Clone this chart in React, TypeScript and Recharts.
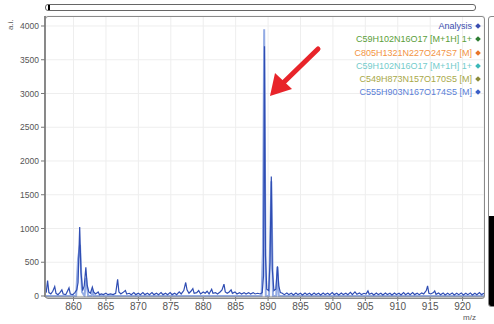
import { LineChart, Line, XAxis, YAxis, CartesianGrid } from 'recharts'

// m/z, intensity (a.i.)
const analysisTrace: [number, number][] = [
  [855.6, 40], [855.8, 60], [856.0, 230], [856.2, 50], [856.5, 30], [856.8, 70], [857.1, 140], [857.3, 40],
  [857.6, 20], [857.9, 50], [858.2, 90], [858.4, 30], [858.8, 20], [859.0, 60], [859.3, 120], [859.5, 30],
  [859.9, 20], [860.2, 50], [860.5, 90], [860.7, 200], [860.95, 1020], [861.15, 350], [861.4, 80], [861.65, 150],
  [861.9, 425], [862.1, 160], [862.35, 60], [862.6, 40], [862.9, 130], [863.1, 60], [863.4, 30], [863.8, 60],
  [864.0, 20], [864.3, 30], [864.6, 20], [865.0, 40], [865.3, 20], [865.7, 30], [866.1, 20], [866.5, 40],
  [866.8, 247], [867.0, 60], [867.3, 30], [867.6, 50], [868.0, 80], [868.2, 30], [868.6, 40], [868.9, 20],
  [869.3, 50], [869.6, 20], [870.0, 40], [870.3, 20], [870.7, 50], [871.0, 20], [871.4, 40], [871.7, 20],
  [872.1, 50], [872.4, 20], [872.8, 40], [873.1, 20], [873.5, 50], [873.8, 20], [874.2, 40], [874.5, 20],
  [874.9, 50], [875.2, 20], [875.6, 40], [875.9, 20], [876.3, 60], [876.6, 30], [877.0, 80], [877.3, 200],
  [877.5, 90], [877.8, 40], [878.1, 70], [878.4, 110], [878.6, 40], [879.0, 50], [879.3, 80], [879.6, 30],
  [880.0, 60], [880.3, 40], [880.6, 70], [880.9, 30], [881.3, 100], [881.5, 40], [881.9, 50], [882.2, 30],
  [882.6, 60], [882.9, 90], [883.2, 175], [883.4, 60], [883.7, 40], [884.0, 60], [884.3, 90], [884.5, 40],
  [884.9, 60], [885.2, 30], [885.6, 50], [885.9, 30], [886.3, 50], [886.6, 30], [887.0, 50], [887.3, 30],
  [887.7, 50], [888.0, 30], [888.4, 40], [888.8, 30], [889.1, 50], [889.3, 300], [889.45, 3700], [889.6, 600],
  [889.8, 100], [890.1, 80], [890.3, 500], [890.5, 1770], [890.65, 400], [890.9, 80], [891.2, 100], [891.45, 440],
  [891.65, 150], [891.9, 50], [892.2, 40], [892.5, 20], [892.9, 45], [893.2, 20], [893.6, 40], [893.9, 15],
  [894.3, 45], [894.6, 20], [895.0, 40], [895.3, 15], [895.7, 45], [896.0, 20], [896.4, 40], [896.7, 15],
  [897.1, 45], [897.4, 20], [897.8, 40], [898.1, 15], [898.5, 45], [898.8, 20], [899.2, 40], [899.5, 20],
  [899.9, 50], [900.2, 20], [900.6, 40], [900.9, 15], [901.3, 45], [901.6, 20], [902.0, 40], [902.3, 20],
  [902.7, 55], [903.0, 20], [903.4, 60], [903.7, 25], [904.1, 45], [904.4, 20], [904.8, 40], [905.1, 30],
  [905.4, 75], [905.6, 25], [906.0, 40], [906.3, 15], [906.7, 45], [907.0, 20], [907.4, 40], [907.7, 15],
  [908.1, 45], [908.4, 20], [908.8, 40], [909.1, 15], [909.5, 45], [909.8, 20], [910.2, 40], [910.5, 15],
  [910.9, 50], [911.2, 20], [911.6, 45], [911.9, 20], [912.3, 50], [912.6, 20], [913.0, 40], [913.3, 20],
  [913.7, 45], [914.0, 30], [914.4, 80], [914.6, 150], [914.8, 40], [915.1, 30], [915.5, 50], [915.7, 75],
  [915.9, 25], [916.3, 45], [916.6, 20], [917.0, 45], [917.3, 15], [917.7, 40], [918.0, 20], [918.4, 45],
  [918.7, 15], [919.1, 40], [919.4, 20], [919.8, 45], [920.1, 15], [920.5, 40], [920.8, 20], [921.2, 45],
  [921.5, 15], [921.9, 40], [922.2, 20], [922.6, 50], [922.9, 20], [923.3, 40],
]

// simulated isotope pattern (light blue)
const simulatedTrace: [number, number][] = [
  [855.6, 0], [860.4, 0], [860.7, 550], [861.0, 760], [861.3, 60], [861.7, 0], [861.95, 270], [862.25, 0],
  [862.8, 0], [862.95, 90], [863.15, 0], [889.0, 0], [889.2, 650], [889.4, 3950], [889.65, 0], [890.15, 0],
  [890.3, 710], [890.5, 1700], [890.75, 0], [891.25, 0], [891.45, 430], [891.65, 0], [923.3, 0],
]

const xTicks = [860, 865, 870, 875, 880, 885, 890, 895, 900, 905, 910, 915, 920]
const yTicks = [0, 500, 1000, 1500, 2000, 2500, 3000, 3500, 4000]

const legendItems = [
  { label: 'Analysis', text: '#3a4db0', mark: '#3a4db0' },
  { label: 'C59H102N16O17 [M+1H] 1+', text: '#5a9e3a', mark: '#2e7d32' },
  { label: 'C805H1321N227O247S7 [M]', text: '#f39443', mark: '#e8742a' },
  { label: 'C59H102N16O17 [M+1H] 1+', text: '#74cccc', mark: '#3bb8b8' },
  { label: 'C549H873N157O170S5 [M]', text: '#a8a848', mark: '#8a8a3a' },
  { label: 'C555H903N167O174S5 [M]', text: '#5b7fd8', mark: '#3a5ec8' },
]

const analysisData = analysisTrace.map(([mz, v]) => ({ mz, v }))
const simulatedData = simulatedTrace.map(([mz, v]) => ({ mz, v }))

const font = '"Liberation Sans", Arial, sans-serif'

export default function App() {
  return (
    <div style={{ position: 'absolute', left: 0, top: 0, width: 494, height: 324, background: '#fff', overflow: 'hidden', fontFamily: font }}>
      <LineChart width={494} height={324} margin={{ top: 16, right: 10, bottom: 0, left: 0 }}>
        <CartesianGrid stroke="#eeeeee" />
        <XAxis
          dataKey="mz"
          type="number"
          domain={[855.6, 923.3]}
          ticks={xTicks}
          allowDataOverflow
          height={27}
          tick={{ fontSize: 10, fill: '#555', fontFamily: font }}
          tickLine={{ stroke: '#777' }}
          tickSize={4}
          axisLine={{ stroke: '#888' }}
        />
        <YAxis
          type="number"
          domain={[-15, 4148]}
          ticks={yTicks}
          allowDataOverflow
          width={45}
          tick={{ fontSize: 8.5, fill: '#555', fontFamily: font }}
          tickLine={{ stroke: '#777' }}
          tickSize={4}
          axisLine={{ stroke: '#888', strokeWidth: 2 }}
        />
        <Line data={simulatedData} dataKey="v" stroke="#93abe4" strokeWidth={2} dot={false} isAnimationActive={false} />
        <Line data={analysisData} dataKey="v" stroke="#2f4db3" strokeWidth={1.2} dot={false} isAnimationActive={false} />
      </LineChart>

      {/* plot frame */}
      <div style={{ position: 'absolute', left: 45, top: 16, width: 438, height: 281, border: '1px solid #8a8a8a', borderRadius: 3, pointerEvents: 'none' }} />
      {/* top scroll bar */}
      <div style={{ position: 'absolute', left: 45, top: 4, width: 429, height: 5, border: '1px solid #666', borderRadius: 3, background: '#fff' }}>
        <div style={{ position: 'absolute', left: 2, top: 0, width: 2, height: 5, background: '#000' }} />
      </div>
      {/* right scroll bar */}
      <div style={{ position: 'absolute', left: 488, top: 16, width: 10, height: 289, border: '1px solid #888', borderRadius: 3, background: '#fff', overflow: 'hidden' }}>
        <div style={{ position: 'absolute', left: 0, top: 199, width: 10, height: 90, background: '#000' }} />
      </div>

      {/* legend */}
      <div style={{ position: 'absolute', right: 14, top: 20, textAlign: 'right', fontSize: 9, lineHeight: '13.3px' }}>
        {legendItems.map((it, i) => (
          <div key={i} style={{ color: it.text, whiteSpace: 'nowrap' }}>
            {it.label}
            <span style={{ display: 'inline-block', width: 4, height: 4, background: it.mark, transform: 'rotate(45deg)', marginLeft: 4, marginBottom: 1 }} />
          </div>
        ))}
      </div>

      <div style={{ position: 'absolute', left: 6, top: 20, fontSize: 8, color: '#555', transform: 'rotate(-90deg)', transformOrigin: 'left top', whiteSpace: 'nowrap' }}>
        <span style={{ position: 'relative', left: -10 }}>a.i.</span>
      </div>
      <div style={{ position: 'absolute', left: 463, top: 313, fontSize: 8, color: '#555' }}>m/z</div>

      {/* red arrow */}
      <svg width={494} height={324} style={{ position: 'absolute', left: 0, top: 0, pointerEvents: 'none' }}>
        <line x1={318} y1={49} x2={283} y2={83} stroke="#e8242a" strokeWidth={5} strokeLinecap="round" />
        <polygon points="270,96 275,73 292,89" fill="#e8242a" />
      </svg>
    </div>
  )
}
